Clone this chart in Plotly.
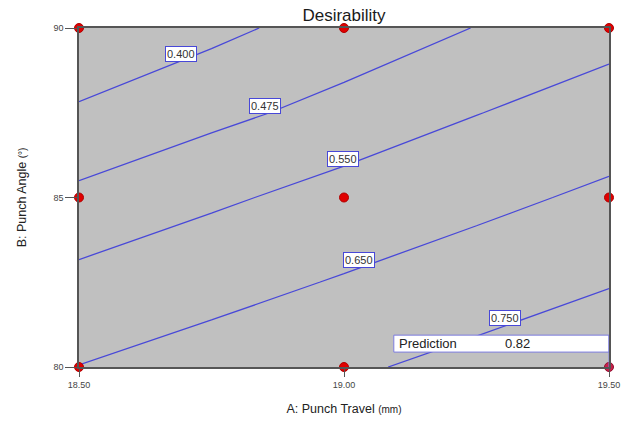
import numpy as np
import plotly.graph_objects as go

# Factor levels (A: punch travel, B: punch angle)
travel = [18.50, 18.75, 19.00, 19.25, 19.50]
angle = [80.0, 82.5, 85.0, 87.5, 90.0]

# Desirability response over the factor grid (rows follow `angle`)
desirability = [
    [0.652, 0.694, 0.736, 0.778, 0.820],
    [0.5715, 0.6147, 0.6580, 0.7012, 0.7444],
    [0.4910, 0.5355, 0.5799, 0.6244, 0.6689],
    [0.4105, 0.4562, 0.4990, 0.5476, 0.5933],
    [0.330, 0.382, 0.432, 0.477, 0.518],
]

# Contour levels and where along the travel axis each label sits
levels = [0.400, 0.475, 0.550, 0.650, 0.750]
label_travel = [18.692, 18.851, 18.998, 19.028, 19.304]

# Design points
design_travel = [18.5, 18.5, 18.5, 19.0, 19.0, 19.0, 19.5, 19.5]
design_angle = [80, 85, 90, 80, 85, 90, 85, 90]

# Prediction flag
pred_travel = 19.5
pred_angle = 80
pred_value = 0.82

LINE = "#4848d8"
FONT = "Liberation Sans, Arial, sans-serif"

z = np.array(desirability)
xs = np.array(travel)
ys = np.array(angle)

fig = go.Figure()

for lev in levels:
    fig.add_trace(go.Contour(
        x=travel, y=angle, z=desirability,
        contours=dict(start=lev, end=lev, size=0.1, coloring="lines"),
        colorscale=[[0, LINE], [1, LINE]],
        line=dict(width=1.3, smoothing=0),
        showscale=False, hoverinfo="skip",
    ))

# contour labels: find where each level crosses the chosen travel value,
# then sit the tag just above its line
for lev, xl in zip(levels, label_travel):
    col = np.array([np.interp(xl, xs, row) for row in z])
    yl = float(np.interp(lev, col[::-1], ys[::-1]))
    fig.add_annotation(
        x=xl, y=yl, yshift=8, text=f"{lev:.3f}", showarrow=False,
        font=dict(family=FONT, size=11, color="#333333"),
        bgcolor="white", bordercolor=LINE, borderwidth=1, borderpad=1,
    )

fig.add_trace(go.Scatter(
    x=design_travel, y=design_angle, mode="markers",
    marker=dict(symbol="circle", size=9, color="#e00000",
                line=dict(color="#b00000", width=1)),
    cliponaxis=False, hoverinfo="skip", showlegend=False,
))
fig.add_trace(go.Scatter(
    x=[pred_travel], y=[pred_angle], mode="markers",
    marker=dict(symbol="circle", size=9, color="#c8204a",
                line=dict(color="#901030", width=1)),
    cliponaxis=False, hoverinfo="skip", showlegend=False,
))

# prediction box
box_left, box_bottom, box_top = 19.094, 80.44, 80.94
fig.add_shape(type="rect", x0=box_left, x1=pred_travel, y0=box_bottom, y1=box_top,
              fillcolor="white", line=dict(color="#7d7de0", width=1), layer="above")
fig.add_shape(type="line", x0=pred_travel, x1=pred_travel, y0=pred_angle, y1=box_top,
              line=dict(color="#7d7de0", width=1), layer="above")
fig.add_annotation(x=box_left + 0.006, y=(box_bottom + box_top) / 2, text="Prediction",
                   showarrow=False, xanchor="left",
                   font=dict(family=FONT, size=13, color="#222222"))
fig.add_annotation(x=19.30, y=(box_bottom + box_top) / 2, text=f"{pred_value:.2f}",
                   showarrow=False, xanchor="left",
                   font=dict(family=FONT, size=13, color="#222222"))

fig.update_layout(
    width=626, height=421,
    margin=dict(l=79, r=17, t=28, b=54, autoexpand=False),
    paper_bgcolor="white", plot_bgcolor="#c0c0c0",
    showlegend=False,
    title=dict(text="Desirability", x=(79 + 609) / 2 / 626, xanchor="center",
               y=1 - 15 / 421, yanchor="middle",
               font=dict(family=FONT, size=17, color="#1a1a1a")),
    xaxis=dict(
        range=[18.5, 19.5], tickvals=[18.5, 19.0, 19.5],
        ticktext=["18.50", "19.00", "19.50"],
        ticks="outside", ticklen=8, tickcolor="#555555",
        showline=True, linecolor="#555555", linewidth=1.5, mirror=True,
        showgrid=False, zeroline=False, automargin=False,
        tickfont=dict(family=FONT, size=9, color="#444444"),
        title=dict(text='A: Punch Travel <span style="font-size:10px">(mm)</span>',
                   font=dict(family=FONT, size=12.5, color="#222222"), standoff=16),
    ),
    yaxis=dict(
        range=[80, 90], tickvals=[80, 85, 90],
        ticks="outside", ticklen=12, tickcolor="#555555",
        showline=True, linecolor="#555555", linewidth=1.5, mirror=True,
        showgrid=False, zeroline=False, automargin=False,
        tickfont=dict(family=FONT, size=9, color="#444444"),
        title=dict(text='B: Punch Angle <span style="font-size:10px">(°)</span>',
                   font=dict(family=FONT, size=12.5, color="#222222"), standoff=24),
    ),
)

fig.write_html("out.html")
